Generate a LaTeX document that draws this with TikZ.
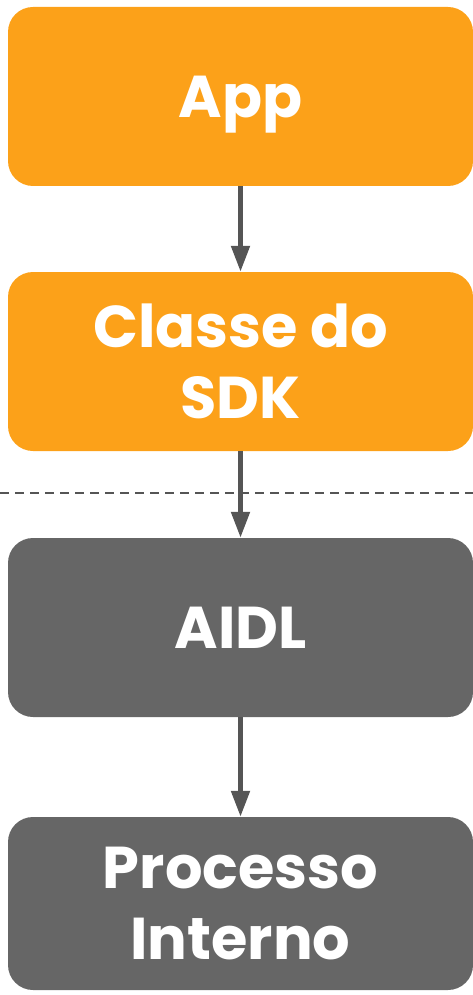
\documentclass[tikz,border=0pt]{standalone}
\usepackage{fontspec}
\setmainfont{Poppins}
\usetikzlibrary{arrows.meta}

\definecolor{sdkorange}{HTML}{FCA119}
\definecolor{procgray}{HTML}{666666}
\definecolor{arrowgray}{HTML}{555555}

\tikzset{
    block/.style={rounded corners=25pt, minimum width=465pt, text=white,
        font=\fontsize{59}{71}\selectfont\bfseries, align=center, inner sep=0pt},
    flow/.style={-{Triangle[length=26pt,width=18pt]}, line width=5pt, draw=arrowgray},
}

\begin{document}
\begin{tikzpicture}[x=1pt,y=-1pt]
    \useasboundingbox (0,0) rectangle (473,995);
    \node[block, fill=sdkorange, minimum height=179pt, text depth=0pt] (app) at (240.5,96.5) {App};
    \node[block, fill=sdkorange, minimum height=179pt] (sdk) at (240.5,361.5) {Classe do\\SDK};
    \node[block, fill=procgray, minimum height=179pt] (aidl) at (240.5,627.5) {AIDL};
    \node[block, fill=procgray, minimum height=173pt] (proc) at (240.5,903.5) {Processo\\Interno};
    \coordinate (cutl) at (0,493);
    \coordinate (cutr) at (473,493);
    \draw[dashed, draw=arrowgray, line width=2pt, dash pattern=on 9pt off 6pt] (cutl) -- (cutr);
    \draw[flow] (app) -- (sdk);
    \draw[flow] (sdk) -- (aidl);
    \draw[flow] (aidl) -- (proc);
\end{tikzpicture}
\end{document}
